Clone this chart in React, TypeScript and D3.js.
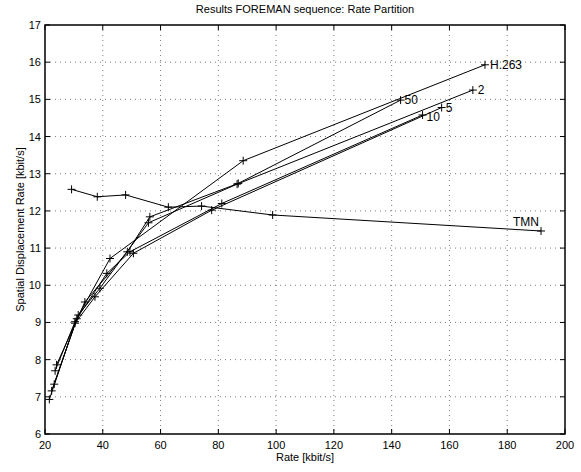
import { useMemo } from "react";
import * as d3 from "d3";

// Rate [kbit/s] and spatial displacement rate [kbit/s] per curve
const h263Rate = [23.5, 30.4, 42.5, 88.6, 172.3];
const h263Disp = [7.7, 9.02, 10.72, 13.35, 15.93];

const q2Rate = [22.3, 31.5, 39.0, 55.8, 86.5, 168.1];
const q2Disp = [7.16, 9.2, 9.92, 11.68, 12.72, 15.25];

const q5Rate = [21.5, 30.4, 37.3, 50.6, 77.7, 157.3];
const q5Disp = [6.93, 8.98, 9.69, 10.86, 12.02, 14.78];

const q10Rate = [23.2, 31.0, 41.4, 49.4, 81.2, 150.7];
const q10Disp = [7.34, 9.1, 10.32, 10.9, 12.2, 14.58];

const q50Rate = [24.0, 33.8, 48.5, 56.3, 86.9, 143.1];
const q50Disp = [7.86, 9.55, 10.9, 11.84, 12.74, 14.98];

const tmnRate = [29.2, 38.1, 47.9, 62.7, 74.2, 98.8, 191.7];
const tmnDisp = [12.58, 12.38, 12.43, 12.1, 12.13, 11.89, 11.46];

const seriesNames = ["H.263", "2", "5", "10", "50", "TMN"];
const xTickValues = [20, 40, 60, 80, 100, 120, 140, 160, 180, 200];
const yTickValues = [6, 7, 8, 9, 10, 11, 12, 13, 14, 15, 16, 17];

const font = "'Liberation Sans', Arial, Helvetica, sans-serif";

export default function App() {
    const width = 581;
    const height = 472;
    const left = 45;
    const right = 565;
    const top = 25;
    const bottom = 434;

    const xScale = useMemo(() => d3.scaleLinear().domain([20, 200]).range([left, right]), []);
    const yScale = useMemo(() => d3.scaleLinear().domain([6, 17]).range([bottom, top]), []);

    const series = [
        { name: seriesNames[0], rate: h263Rate, disp: h263Disp, dx: 5, dy: 4 },
        { name: seriesNames[1], rate: q2Rate, disp: q2Disp, dx: 5, dy: 4 },
        { name: seriesNames[2], rate: q5Rate, disp: q5Disp, dx: 4, dy: 4 },
        { name: seriesNames[3], rate: q10Rate, disp: q10Disp, dx: 4, dy: 6 },
        { name: seriesNames[4], rate: q50Rate, disp: q50Disp, dx: 4, dy: 4 },
        { name: seriesNames[5], rate: tmnRate, disp: tmnDisp, dx: -28, dy: -5 },
    ];

    const line = d3.line<number[]>().x((d) => xScale(d[0])).y((d) => yScale(d[1]));

    return (
        <svg width={width} height={height} style={{ position: "absolute", left: 0, top: 0, background: "#fff" }}>
            <rect x={0} y={0} width={width} height={height} fill="#fff" />
            <text x={(left + right) / 2} y={13} textAnchor="middle" fontSize="11" fontFamily={font}>
                Results FOREMAN sequence: Rate Partition
            </text>

            {/* dotted grid */}
            {xTickValues.slice(1, -1).map((t) => (
                <line key={`gx-${t}`} x1={xScale(t)} x2={xScale(t)} y1={top} y2={bottom}
                    stroke="#444" strokeWidth="0.7" strokeDasharray="1,4" />
            ))}
            {yTickValues.slice(1, -1).map((t) => (
                <line key={`gy-${t}`} x1={left} x2={right} y1={yScale(t)} y2={yScale(t)}
                    stroke="#444" strokeWidth="0.7" strokeDasharray="1,4" />
            ))}

            {/* ticks on all four sides, pointing inward */}
            {xTickValues.map((t) => (
                <g key={`tx-${t}`}>
                    <line x1={xScale(t)} x2={xScale(t)} y1={bottom} y2={bottom - 5} stroke="#000" />
                    <line x1={xScale(t)} x2={xScale(t)} y1={top} y2={top + 5} stroke="#000" />
                    <text x={xScale(t)} y={bottom + 15} textAnchor="middle" fontSize="11" fontFamily={font}>{t}</text>
                </g>
            ))}
            {yTickValues.map((t) => (
                <g key={`ty-${t}`}>
                    <line x1={left} x2={left + 5} y1={yScale(t)} y2={yScale(t)} stroke="#000" />
                    <line x1={right} x2={right - 5} y1={yScale(t)} y2={yScale(t)} stroke="#000" />
                    <text x={left - 4} y={yScale(t) + 4} textAnchor="end" fontSize="11" fontFamily={font}>{t}</text>
                </g>
            ))}

            {/* curves */}
            {series.map((s) => {
                const pts = s.rate.map((r, i) => [r, s.disp[i]]);
                const last = pts[pts.length - 1];
                return (
                    <g key={s.name}>
                        <path d={line(pts) ?? ""} fill="none" stroke="#000" strokeWidth="1" />
                        {pts.map((p, i) => (
                            <g key={i} transform={`translate(${xScale(p[0])},${yScale(p[1])})`}>
                                <line x1={-4} x2={4} y1={0} y2={0} stroke="#000" />
                                <line x1={0} x2={0} y1={-4} y2={4} stroke="#000" />
                            </g>
                        ))}
                        <text x={xScale(last[0]) + s.dx} y={yScale(last[1]) + s.dy}
                            fontSize="12" fontFamily={font}>{s.name}</text>
                    </g>
                );
            })}

            <rect x={left} y={top} width={right - left} height={bottom - top} fill="none" stroke="#000" strokeWidth="1.5" />

            <text x={(left + right) / 2} y={461} textAnchor="middle" fontSize="11" fontFamily={font}>Rate [kbit/s]</text>
            <text transform={`translate(24,${(top + bottom) / 2}) rotate(-90)`} textAnchor="middle" fontSize="11" fontFamily={font}>
                Spatial Displacement Rate [kbit/s]
            </text>
        </svg>
    );
}
